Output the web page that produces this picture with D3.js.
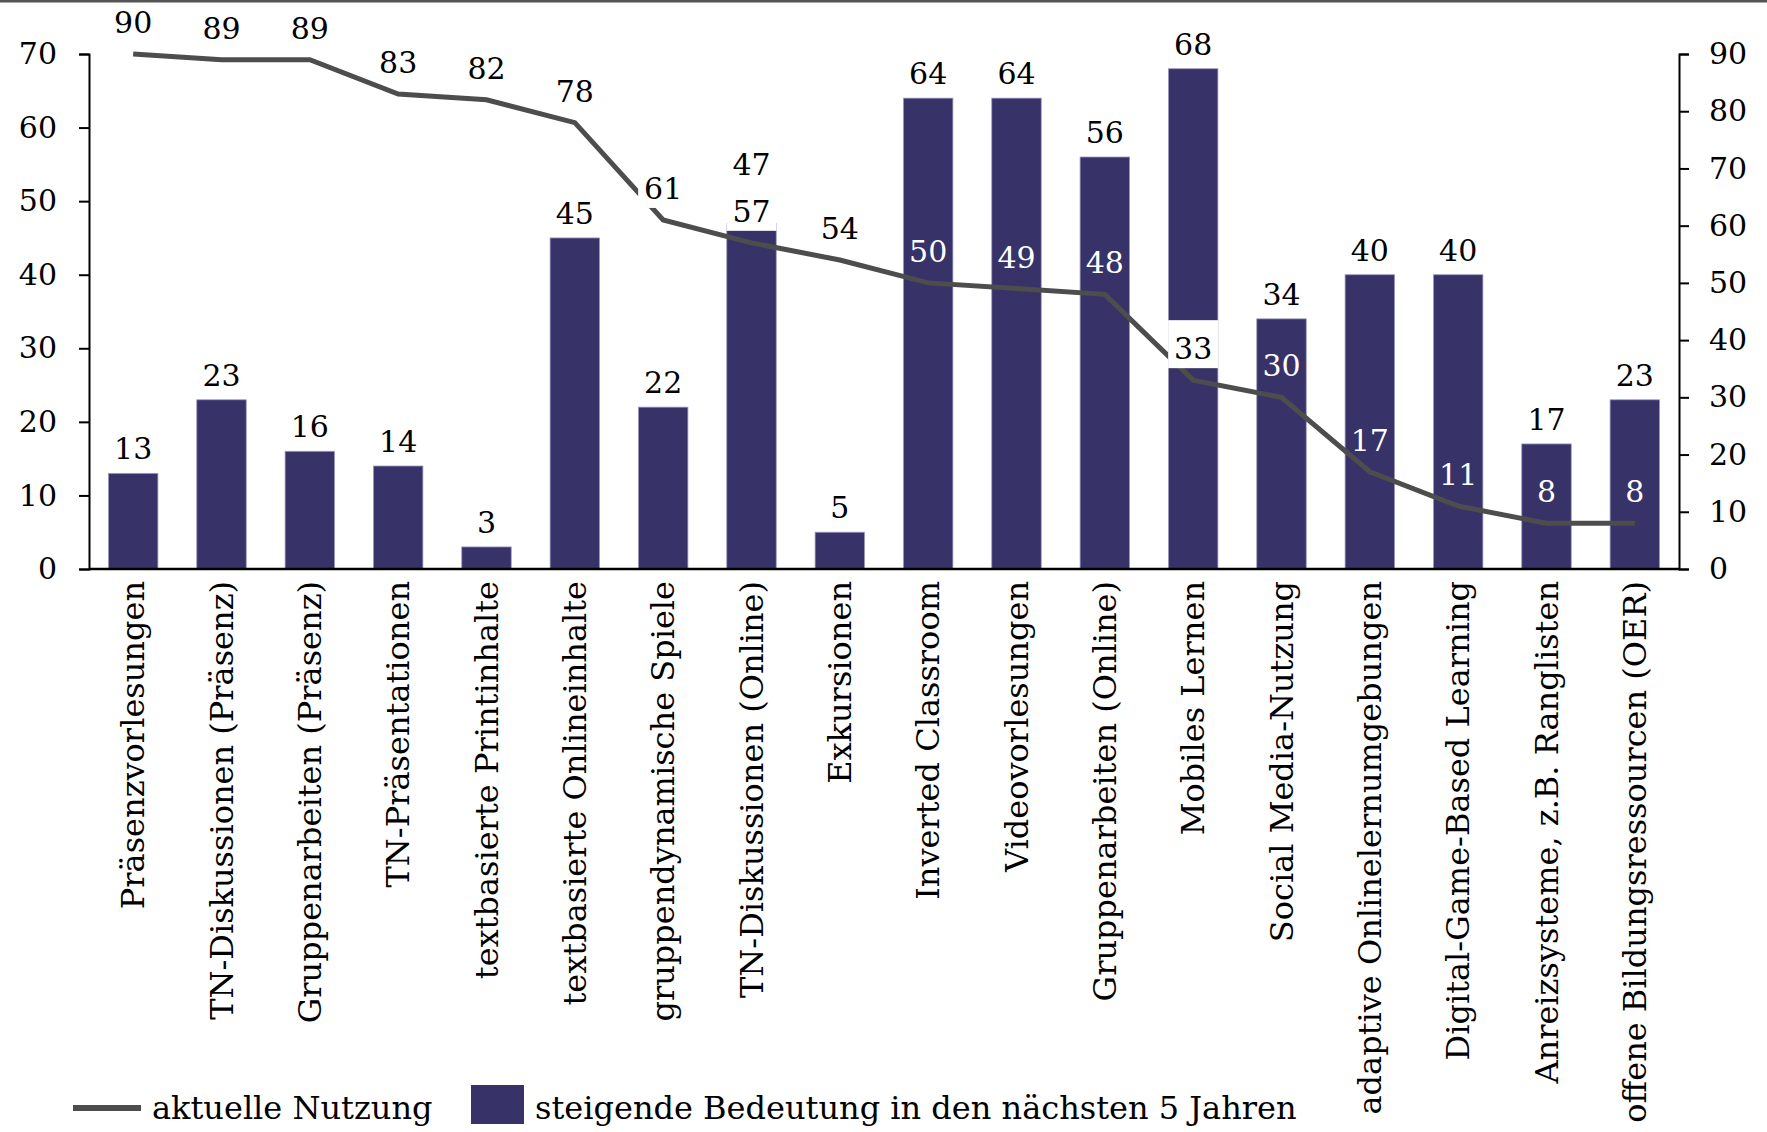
<!DOCTYPE html>
<html>
<head>
<meta charset="utf-8">
<script src="https://cdn.jsdelivr.net/npm/d3@7"></script>
<style>
  body { margin: 0; background: #fff; }
  text { font-family: "DejaVu Serif", "Liberation Serif", serif; font-variant-numeric: oldstyle-nums; }
</style>
</head>
<body>
<div id="chart"></div>
<script>
var svgWidth = 1767;
var svgHeight = 1132;

// categories and the two series
var categories = [
  "Präsenzvorlesungen", "TN-Diskussionen (Präsenz)", "Gruppenarbeiten (Präsenz)",
  "TN-Präsentationen", "textbasierte Printinhalte", "textbasierte Onlineinhalte",
  "gruppendynamische Spiele", "TN-Diskussionen (Online)", "Exkursionen",
  "Inverted Classroom", "Videovorlesungen", "Gruppenarbeiten (Online)",
  "Mobiles Lernen", "Social Media-Nutzung", "adaptive Onlinelernumgebungen",
  "Digital-Game-Based Learning", "Anreizsysteme, z.B. Ranglisten",
  "offene Bildungsressourcen (OER)"
];
var steigend = [13, 23, 16, 14, 3, 45, 22, 47, 5, 64, 64, 56, 68, 34, 40, 40, 17, 23];
var aktuell = [90, 89, 89, 83, 82, 78, 61, 57, 54, 50, 49, 48, 33, 30, 17, 11, 8, 8];

var leftTicks = [0, 10, 20, 30, 40, 50, 60, 70];
var rightTicks = [0, 10, 20, 30, 40, 50, 60, 70, 80, 90];

// line labels that sit on a white box in the original
var boxedLabels = ["gruppendynamische Spiele", "TN-Diskussionen (Online)", "Mobiles Lernen"];

var barColor = "#373267";
var lineColor = "#4d4d4d";

var plot = { left: 89, right: 1679, top: 54, bottom: 569 };

var svg = d3.select("#chart")
  .append("svg")
  .attr("width", svgWidth)
  .attr("height", svgHeight);

// thin frame line at the very top
svg.append("rect")
  .attr("x", 0).attr("y", 0)
  .attr("width", svgWidth).attr("height", 2.5)
  .attr("fill", "#555");

var data = categories.map(function(c, i) {
  return { cat: c, bar: steigend[i], line: aktuell[i] };
});

var x = d3.scaleBand()
  .domain(categories)
  .range([plot.left, plot.right])
  .paddingInner(0.44)
  .paddingOuter(0.22);

var yLeft = d3.scaleLinear().domain([0, 70]).range([plot.bottom, plot.top]);
var yRight = d3.scaleLinear().domain([0, 90]).range([plot.bottom, plot.top]);

var numSize = 30;
var textSize = 32;

// baseline of a line label, and of a bar label (moved up when it would clash)
function lineLabelY(d) {
  return yRight(d.line) - 22;
}
function barLabelY(d) {
  var y = yLeft(d.bar) - 14;
  var ly = lineLabelY(d);
  if (Math.abs(y - ly) < 34) y = ly - 46;
  return y;
}

// bars
svg.selectAll("rect.bar")
  .data(data)
  .enter()
  .append("rect")
  .attr("class", "bar")
  .attr("x", d => x(d.cat))
  .attr("y", d => yLeft(d.bar))
  .attr("width", x.bandwidth())
  .attr("height", d => yLeft(0) - yLeft(d.bar))
  .attr("fill", barColor)
  .attr("stroke", "#9d9abd")
  .attr("stroke-width", 0.8);

// bar value labels
svg.selectAll("text.barlabel")
  .data(data)
  .enter()
  .append("text")
  .attr("class", "barlabel")
  .attr("x", d => x(d.cat) + x.bandwidth() / 2)
  .attr("y", barLabelY)
  .attr("text-anchor", "middle")
  .attr("font-size", numSize)
  .attr("fill", "#000")
  .text(d => d.bar);

// line
var line = d3.line()
  .x(d => x(d.cat) + x.bandwidth() / 2)
  .y(d => yRight(d.line));

svg.append("path")
  .datum(data)
  .attr("d", line)
  .attr("fill", "none")
  .attr("stroke", lineColor)
  .attr("stroke-width", 5);

// line value labels
var lineLabels = svg.selectAll("g.linelabel")
  .data(data)
  .enter()
  .append("g")
  .attr("class", "linelabel")
  .attr("transform", d => `translate(${x(d.cat) + x.bandwidth() / 2}, ${yRight(d.line)})`);

lineLabels.filter(d => boxedLabels.indexOf(d.cat) >= 0)
  .append("rect")
  .attr("x", -25)
  .attr("y", -60)
  .attr("width", 50)
  .attr("height", 48)
  .attr("fill", "#fff");

lineLabels.append("text")
  .attr("y", -21)
  .attr("text-anchor", "middle")
  .attr("font-size", numSize)
  .attr("fill", function(d) {
    var inside = yRight(d.line) - 32 > yLeft(d.bar);
    return (inside && boxedLabels.indexOf(d.cat) < 0) ? "#fff" : "#000";
  })
  .text(d => d.line);

// axes
var leftAxis = d3.axisLeft(yLeft).tickValues(leftTicks).tickSize(10).tickPadding(22);
var rightAxis = d3.axisRight(yRight).tickValues(rightTicks).tickSize(10).tickPadding(20);

var gLeft = svg.append("g")
  .attr("transform", `translate(${plot.left}, 0)`)
  .call(leftAxis);
var gRight = svg.append("g")
  .attr("transform", `translate(${plot.right}, 0)`)
  .call(rightAxis);

[gLeft, gRight].forEach(function(g) {
  g.select(".domain").attr("stroke", "#000").attr("stroke-width", 2);
  g.selectAll(".tick line").attr("stroke", "#000").attr("stroke-width", 2);
  g.selectAll(".tick text")
    .attr("font-size", numSize)
    .attr("font-family", "DejaVu Serif")
    .attr("fill", "#000");
});

// bottom baseline
svg.append("line")
  .attr("x1", plot.left).attr("x2", plot.right)
  .attr("y1", plot.bottom).attr("y2", plot.bottom)
  .attr("stroke", "#000")
  .attr("stroke-width", 2.5);

// category labels, rotated
svg.selectAll("text.cat")
  .data(categories)
  .enter()
  .append("text")
  .attr("class", "cat")
  .attr("transform", d => `translate(${x(d) + x.bandwidth() / 2 + 11}, ${plot.bottom + 12}) rotate(-90)`)
  .attr("text-anchor", "end")
  .attr("font-size", textSize)
  .attr("fill", "#000")
  .text(d => d);

// legend
var legend = svg.append("g").attr("transform", "translate(0, 1108)");

legend.append("line")
  .attr("x1", 73).attr("x2", 141)
  .attr("y1", 0).attr("y2", 0)
  .attr("stroke", lineColor)
  .attr("stroke-width", 6);
legend.append("text")
  .attr("x", 152).attr("y", 11)
  .attr("font-size", textSize)
  .text("aktuelle Nutzung");

legend.append("rect")
  .attr("x", 471).attr("y", -23)
  .attr("width", 53).attr("height", 39)
  .attr("fill", barColor);
legend.append("text")
  .attr("x", 535).attr("y", 11)
  .attr("font-size", textSize)
  .text("steigende Bedeutung in den nächsten 5 Jahren");
</script>
</body>
</html>
